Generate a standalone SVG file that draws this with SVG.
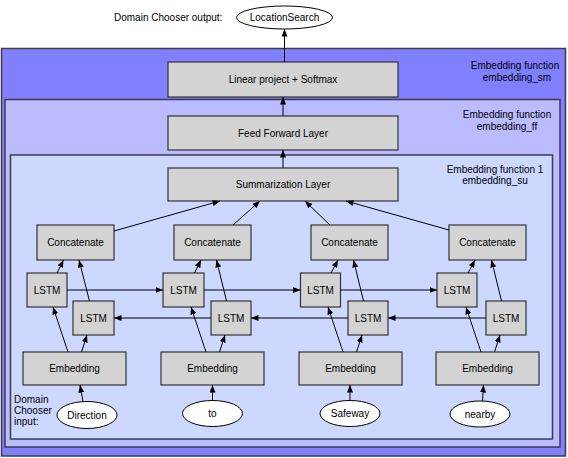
<svg xmlns="http://www.w3.org/2000/svg" width="568" height="458" viewBox="0 0 568 458">
<defs>
<marker id="ah" markerUnits="userSpaceOnUse" markerWidth="8" markerHeight="6" refX="7.5" refY="3" orient="auto">
<path d="M0,0 L7.5,3 L0,6 z" fill="#000"/>
</marker>
<style>
text{font-family:"Liberation Sans",Arial,sans-serif;font-size:10px;fill:#000}
.c{text-anchor:middle}
.node{fill:#d3d3d3;stroke:#333;stroke-width:1.2}
.ell{fill:#fff;stroke:#000;stroke-width:1}
.cont{stroke:#3c3c4c;stroke-width:1.5}
.e line{stroke:#000;stroke-width:1;marker-end:url(#ah)}
</style>
</defs>
<rect width="568" height="458" fill="#fff"/>
<g id="container-sm">
<rect class="cont" x="1.5" y="48.5" width="564" height="407.5" fill="#8080ff"/>
<text class="c" x="515" y="69">Embedding function</text>
<text class="c" x="517" y="80.5">embedding_sm</text>
</g>
<g id="container-ff">
<rect class="cont" x="5" y="99.5" width="555" height="347.5" fill="#bbbbff"/>
<text class="c" x="507" y="118">Embedding function</text>
<text class="c" x="507" y="129.5">embedding_ff</text>
</g>
<g id="container-su">
<rect class="cont" x="10.5" y="155" width="542" height="284" fill="#ccd8ff"/>
<text class="c" x="495" y="172.5">Embedding function 1</text>
<text class="c" x="495" y="184">embedding_su</text>
</g>
<g id="output-label"><text x="114" y="21">Domain Chooser output:</text></g>
<g id="input-label">
<text x="14" y="402.5">Domain</text>
<text x="14" y="413.5">Chooser</text>
<text x="14" y="424.5">input:</text>
</g>
<g id="n-output"><ellipse class="ell" cx="284.5" cy="17.5" rx="48" ry="11.5"/><text class="c" x="284.5" y="21">LocationSearch</text></g>
<g id="n-linear"><rect class="node" x="168" y="62" width="230" height="35"/><text class="c" x="283" y="83">Linear project + Softmax</text></g>
<g id="n-ff"><rect class="node" x="168" y="116" width="230" height="34"/><text class="c" x="283" y="136.5">Feed Forward Layer</text></g>
<g id="n-sum"><rect class="node" x="168" y="168" width="230" height="33"/><text class="c" x="283" y="188">Summarization Layer</text></g>
<g id="n-cat1"><rect class="node" x="37" y="225" width="77" height="35"/><text class="c" x="75.5" y="246">Concatenate</text></g>
<g id="n-cat2"><rect class="node" x="174" y="225" width="77" height="35"/><text class="c" x="212.5" y="246">Concatenate</text></g>
<g id="n-cat3"><rect class="node" x="311" y="225" width="77" height="35"/><text class="c" x="349.5" y="246">Concatenate</text></g>
<g id="n-cat4"><rect class="node" x="449" y="225" width="77" height="35"/><text class="c" x="487.5" y="246">Concatenate</text></g>
<g id="n-fw1"><rect class="node" x="27" y="273" width="40" height="34"/><text class="c" x="47" y="293.5">LSTM</text></g>
<g id="n-fw2"><rect class="node" x="163" y="273" width="41" height="34"/><text class="c" x="183.5" y="293.5">LSTM</text></g>
<g id="n-fw3"><rect class="node" x="300.5" y="273" width="40" height="34"/><text class="c" x="320.5" y="293.5">LSTM</text></g>
<g id="n-fw4"><rect class="node" x="437" y="273" width="40" height="34"/><text class="c" x="457" y="293.5">LSTM</text></g>
<g id="n-bw1"><rect class="node" x="73" y="301" width="41" height="34"/><text class="c" x="93.5" y="321.5">LSTM</text></g>
<g id="n-bw2"><rect class="node" x="211" y="301" width="40" height="34"/><text class="c" x="231" y="321.5">LSTM</text></g>
<g id="n-bw3"><rect class="node" x="348" y="301" width="40" height="34"/><text class="c" x="368" y="321.5">LSTM</text></g>
<g id="n-bw4"><rect class="node" x="486" y="301" width="40" height="34"/><text class="c" x="506" y="321.5">LSTM</text></g>
<g id="n-emb1"><rect class="node" x="23" y="352" width="103" height="33"/><text class="c" x="74.5" y="372">Embedding</text></g>
<g id="n-emb2"><rect class="node" x="161" y="352" width="103" height="33"/><text class="c" x="212.5" y="372">Embedding</text></g>
<g id="n-emb3"><rect class="node" x="299" y="352" width="103" height="33"/><text class="c" x="350.5" y="372">Embedding</text></g>
<g id="n-emb4"><rect class="node" x="436" y="352" width="103" height="33"/><text class="c" x="487.5" y="372">Embedding</text></g>
<g id="n-in1"><ellipse class="ell" cx="87" cy="415" rx="30" ry="13.5"/><text class="c" x="87" y="418.5">Direction</text></g>
<g id="n-in2"><ellipse class="ell" cx="212.5" cy="413.5" rx="30" ry="13"/><text class="c" x="212.5" y="417">to</text></g>
<g id="n-in3"><ellipse class="ell" cx="350" cy="413.5" rx="30" ry="13"/><text class="c" x="350" y="417">Safeway</text></g>
<g id="n-in4"><ellipse class="ell" cx="480" cy="414" rx="30" ry="13"/><text class="c" x="480" y="417.5">nearby</text></g>
<g id="connectors" class="e">
<line x1="284.5" y1="62" x2="284.5" y2="29"/>
<line x1="283" y1="116" x2="283" y2="97"/>
<line x1="283" y1="168" x2="283" y2="150"/>
<line x1="114" y1="231" x2="220" y2="201"/>
<line x1="233" y1="225" x2="260" y2="201"/>
<line x1="330" y1="225" x2="305" y2="201"/>
<line x1="449" y1="230" x2="346" y2="201"/>
<line x1="57" y1="273" x2="63.5" y2="260"/>
<line x1="89.5" y1="301" x2="79" y2="260"/>
<line x1="194.5" y1="273" x2="201" y2="260"/>
<line x1="226.5" y1="301" x2="216.5" y2="260"/>
<line x1="331" y1="273" x2="338" y2="260"/>
<line x1="363.5" y1="301" x2="353.5" y2="260"/>
<line x1="468" y1="273" x2="475" y2="260"/>
<line x1="501.5" y1="301" x2="491.5" y2="260"/>
<line x1="67" y1="290" x2="163" y2="290"/>
<line x1="204" y1="290" x2="300.5" y2="290"/>
<line x1="340.5" y1="290" x2="437" y2="290"/>
<line x1="211" y1="318" x2="114" y2="318"/>
<line x1="348" y1="318" x2="251" y2="318"/>
<line x1="486" y1="318" x2="388" y2="318"/>
<line x1="68" y1="352" x2="53" y2="307"/>
<line x1="81.5" y1="352" x2="87" y2="335"/>
<line x1="206" y1="352" x2="191" y2="307"/>
<line x1="219.5" y1="352" x2="225" y2="335"/>
<line x1="343" y1="352" x2="328" y2="307"/>
<line x1="356.5" y1="352" x2="362" y2="335"/>
<line x1="481" y1="352" x2="466" y2="307"/>
<line x1="494.5" y1="352" x2="500" y2="335"/>
<line x1="83" y1="401.5" x2="80" y2="385"/>
<line x1="212.5" y1="400.5" x2="212.5" y2="385"/>
<line x1="350" y1="400.5" x2="350" y2="385"/>
<line x1="482.5" y1="401" x2="483.5" y2="385"/>
</g>
</svg>
